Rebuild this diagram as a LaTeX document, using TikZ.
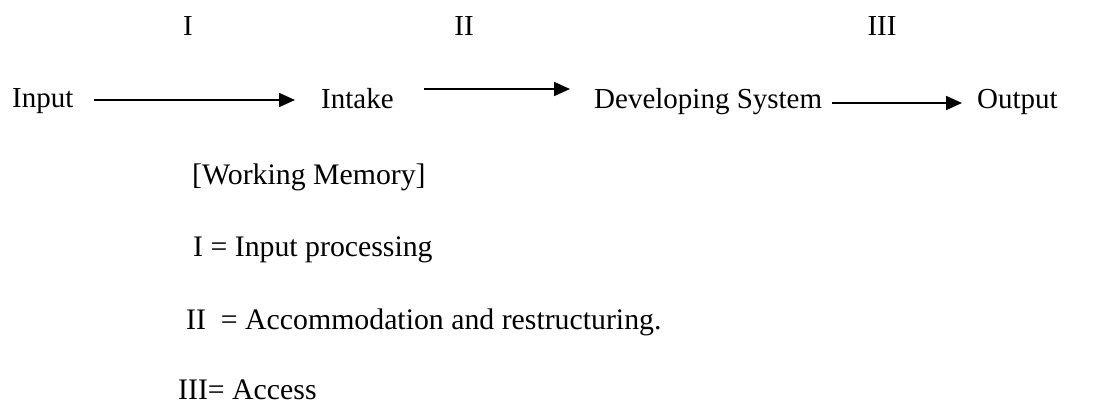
\documentclass[tikz,border=0pt]{standalone}
\usepackage{fontspec}
\setmainfont{Liberation Serif}
\usetikzlibrary{arrows.meta}
\begin{document}
\begin{tikzpicture}[x=1pt,y=1pt,
  lbl/.style={inner sep=0pt,anchor=base west,font=\fontsize{29}{34}\selectfont},
  note/.style={inner sep=0pt,anchor=base west,font=\fontsize{29.8}{35}\selectfont},
  stage/.style={inner sep=0pt,anchor=base,font=\fontsize{29}{34}\selectfont},
  arr/.style={line width=1.7pt,-{Triangle[length=16pt,width=14pt]}}]
\useasboundingbox (0,0) rectangle (1114,-406);
% stage numerals
\node[stage] (s1) at (188,-36) {I};
\node[stage] (s2) at (464,-36) {II};
\node[stage] (s3) at (882,-36) {III};
% main chain
\node[lbl] (input)  at (12,-108)  {Input};
\node[lbl] (intake) at (321,-109) {Intake};
\node[lbl] (dev)    at (594,-109) {Developing System};
\node[lbl] (output) at (977,-109) {Output};
\draw[arr] ([xshift=20pt,yshift=8pt]input.base east) -- ([xshift=-26pt,yshift=9pt]intake.base west);
\draw[arr] ([xshift=30pt,yshift=20pt]intake.base east) -- ([xshift=-24pt,yshift=20pt]dev.base west);
\draw[arr] ([xshift=10pt,yshift=6pt]dev.base east) -- ([xshift=-15pt,yshift=6pt]output.base west);
% notes
\node[note] (wm)  at (192,-185) {[Working Memory]};
\node[note] (k1)  at (193,-257) {I = Input processing};
\node[note] (k2)  at (186,-329) {II\ \ = Accommodation and restructuring.};
\node[note] (k3)  at (178,-399) {III= Access};
\end{tikzpicture}
\end{document}
